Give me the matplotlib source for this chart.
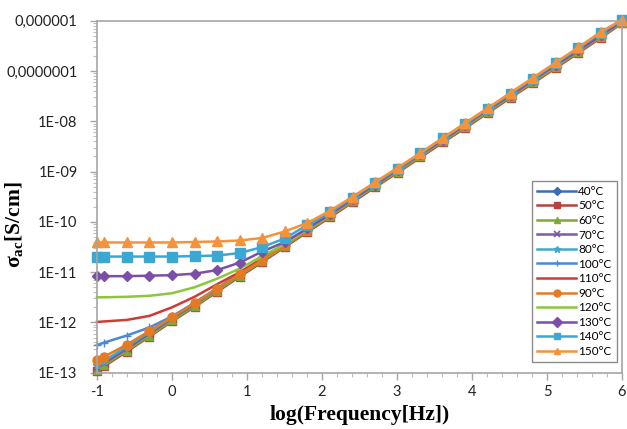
import numpy as np
import matplotlib
matplotlib.use("Agg")
import matplotlib.pyplot as plt
from matplotlib.ticker import FixedLocator, NullFormatter, LogLocator, MultipleLocator

plt.rcParams["mathtext.fontset"] = "custom"
plt.rcParams["mathtext.rm"] = "Liberation Serif:bold"
plt.rcParams["mathtext.bf"] = "Liberation Serif:bold"
plt.rcParams["mathtext.it"] = "Liberation Serif:bold"

# Measurement frequencies [Hz]
freq_hz = [0.1, 0.125, 0.25, 0.5, 1, 2, 4, 8, 16, 32, 64, 128, 256, 512, 1024,
           2048, 4096, 8192, 16384, 32768, 65536, 131072, 262144, 524288, 1000000]

# log10 of sigma_ac [S/cm] for each temperature
s40 = [-12.93, -12.83, -12.54, -12.24, -11.94, -11.65, -11.35, -11.05, -10.76, -10.46, -10.16, -9.87, -9.57,
       -9.27, -8.98, -8.68, -8.38, -8.09, -7.79, -7.49, -7.20, -6.90, -6.60, -6.30, -6.03]
s50 = [-12.97, -12.87, -12.58, -12.28, -11.98, -11.69, -11.39, -11.09, -10.80, -10.50, -10.20, -9.91, -9.61,
       -9.31, -9.02, -8.72, -8.42, -8.13, -7.83, -7.53, -7.24, -6.94, -6.64, -6.34, -6.05]
s60 = [-12.95, -12.85, -12.56, -12.26, -11.96, -11.67, -11.37, -11.07, -10.78, -10.48, -10.18, -9.89, -9.59,
       -9.29, -9.00, -8.70, -8.40, -8.11, -7.81, -7.51, -7.22, -6.92, -6.62, -6.32, -6.04]
s70 = [-12.91, -12.81, -12.52, -12.22, -11.92, -11.63, -11.33, -11.03, -10.74, -10.44, -10.14, -9.85, -9.55,
       -9.25, -8.96, -8.66, -8.36, -8.07, -7.77, -7.47, -7.18, -6.88, -6.58, -6.28, -6.02]
s80 = [-12.85, -12.76, -12.48, -12.19, -11.90, -11.61, -11.32, -11.02, -10.73, -10.43, -10.14, -9.84, -9.54,
       -9.25, -8.95, -8.65, -8.36, -8.06, -7.76, -7.47, -7.17, -6.87, -6.58, -6.28, -6.02]
s100 = [-12.45, -12.40, -12.26, -12.10, -11.88, -11.61, -11.33, -11.04, -10.75, -10.45, -10.16, -9.86, -9.56,
        -9.27, -8.97, -8.67, -8.38, -8.08, -7.78, -7.49, -7.19, -6.89, -6.60, -6.30, -6.02]
s110 = [-11.99, -11.98, -11.95, -11.87, -11.70, -11.49, -11.24, -11.00, -10.73, -10.45, -10.15, -9.86, -9.56,
        -9.26, -8.97, -8.67, -8.37, -8.08, -7.78, -7.48, -7.19, -6.89, -6.59, -6.29, -6.02]
s90 = [-12.75, -12.68, -12.44, -12.17, -11.90, -11.61, -11.33, -11.04, -10.76, -10.46, -10.16, -9.87, -9.57,
       -9.27, -8.98, -8.68, -8.38, -8.09, -7.79, -7.49, -7.20, -6.90, -6.60, -6.30, -6.02]
s120 = [-11.50, -11.50, -11.49, -11.47, -11.42, -11.30, -11.13, -10.93, -10.68, -10.44, -10.15, -9.86, -9.56,
        -9.26, -8.97, -8.67, -8.37, -8.08, -7.78, -7.48, -7.19, -6.89, -6.59, -6.29, -6.02]
s130 = [-11.08, -11.08, -11.08, -11.07, -11.06, -11.03, -10.96, -10.81, -10.59, -10.40, -10.13, -9.85, -9.55,
        -9.26, -8.96, -8.66, -8.37, -8.07, -7.77, -7.48, -7.18, -6.88, -6.59, -6.29, -6.01]
s140 = [-10.69, -10.69, -10.69, -10.69, -10.69, -10.68, -10.67, -10.62, -10.50, -10.33, -10.06, -9.81, -9.52,
        -9.23, -8.94, -8.64, -8.34, -8.05, -7.75, -7.45, -7.15, -6.85, -6.55, -6.24, -5.99]
s150 = [-10.41, -10.41, -10.41, -10.41, -10.41, -10.40, -10.39, -10.37, -10.32, -10.19, -10.02, -9.78, -9.50,
        -9.21, -8.92, -8.63, -8.33, -8.03, -7.73, -7.43, -7.13, -6.83, -6.53, -6.22, -5.98]

labels = ["40°C", "50°C", "60°C", "70°C", "80°C", "100°C", "110°C", "90°C",
          "120°C", "130°C", "140°C", "150°C"]
series = [s40, s50, s60, s70, s80, s100, s110, s90, s120, s130, s140, s150]

styles = [
    dict(color="#3D6DB5", marker="D", ms=4.0),
    dict(color="#B8413E", marker="s", ms=5.5),
    dict(color="#7FA83C", marker="^", ms=6.0),
    dict(color="#7A5AA6", marker="x", ms=5.0, mew=1.2),
    dict(color="#3FA9C9", marker="*", ms=6.0),
    dict(color="#4A8AD4", marker="+", ms=6.0, mew=1.0),
    dict(color="#D03A34", marker=None, ms=0),
    dict(color="#E57A25", marker="o", ms=6.5),
    dict(color="#8CC63F", marker=None, ms=0),
    dict(color="#7B4FA8", marker="D", ms=5.0),
    dict(color="#3CA8D2", marker="s", ms=6.5),
    dict(color="#F7923A", marker="^", ms=7.0),
]

fig = plt.figure(figsize=(6.27, 4.29), dpi=100)
ax = fig.add_axes([0.1547, 0.1312, 0.8373, 0.8205])

x = np.log10(freq_hz)
for lab, vals, st in zip(labels, series, styles):
    ax.plot(x, 10.0 ** np.array(vals), label=lab, color=st["color"], lw=1.8,
            marker=st["marker"], markersize=st["ms"], mew=st.get("mew", 1.0),
            mec=st["color"], mfc=st["color"], clip_on=False)

ax.set_yscale("log")
ax.set_xlim(-1, 6)
ax.set_ylim(1e-13, 1e-6)

ytick_vals = [1e-13, 1e-12, 1e-11, 1e-10, 1e-9, 1e-8, 1e-7, 1e-6]
ytick_labels = ["1E-13", "1E-12", "1E-11", "1E-10", "1E-09", "1E-08", "0,0000001", "0,000001"]
ax.yaxis.set_major_locator(FixedLocator(ytick_vals))
ax.set_yticklabels(ytick_labels)
ax.yaxis.set_minor_locator(LogLocator(base=10, subs=np.arange(2, 10), numticks=20))
ax.yaxis.set_minor_formatter(NullFormatter())

xtick_vals = [-1, 0, 1, 2, 3, 4, 5, 6]
ax.set_xticks(xtick_vals)
ax.set_xticklabels([str(v) for v in xtick_vals])
ax.xaxis.set_minor_locator(MultipleLocator(0.2))

for lbl in ax.get_xticklabels() + ax.get_yticklabels():
    lbl.set_fontfamily("Lato")
    lbl.set_fontsize(10.5)
    lbl.set_color("#222222")

for sp in ax.spines.values():
    sp.set_color("#A6A6A6")
    sp.set_linewidth(1.2)
ax.tick_params(which="major", direction="out", length=5, width=1.0, color="#A6A6A6")
ax.tick_params(which="minor", direction="out", length=3, width=0.8, color="#BFBFBF")
ax.tick_params(axis="y", which="major", pad=9)
ax.tick_params(axis="x", which="major", pad=4)

ax.set_xlabel("log(Frequency[Hz])", family="Liberation Serif", weight="bold", fontsize=15.5, labelpad=4)
ax.set_ylabel(r"σ$_{\mathbf{ac}}$[S/cm]", family="Liberation Serif", weight="bold", fontsize=15.5)
ax.yaxis.set_label_coords(-0.137, 0.42)

leg = ax.legend(loc="lower right", bbox_to_anchor=(0.99, 0.03), frameon=True, fancybox=False,
                edgecolor="#8C8C8C", framealpha=1.0, handlelength=3.3, handletextpad=0.15,
                labelspacing=0.3, borderpad=0.45, borderaxespad=0.0,
                prop=dict(family="Lato", size=8.5))
leg.get_frame().set_linewidth(1.0)
for line in leg.get_lines():
    line.set_markersize(min(line.get_markersize(), 5))

fig.savefig("out.png", dpi=100)
